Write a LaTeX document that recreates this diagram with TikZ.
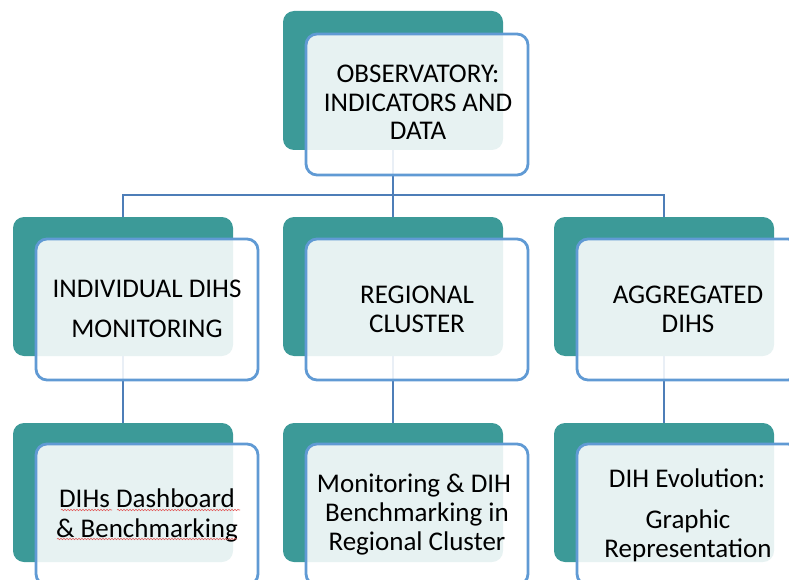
\documentclass[tikz,border=0pt]{standalone}
\usepackage{fontspec}
\setmainfont{Carlito}
\usetikzlibrary{decorations.pathmorphing}
\definecolor{tealbox}{RGB}{60,154,152}
\definecolor{frameblue}{RGB}{96,154,212}
\definecolor{linkblue}{RGB}{78,126,184}
\definecolor{spellred}{RGB}{226,90,90}
\tikzset{
  backbox/.style={fill=tealbox, rounded corners=11pt, inner sep=0pt, outer sep=0pt,
    minimum width=220pt, minimum height=139pt, anchor=north west},
  frontbox/.style={fill=white, fill opacity=0.88, draw=frameblue, line width=2.8pt,
    rounded corners=11pt, inner sep=0pt, outer sep=0pt,
    minimum width=222pt, minimum height=141pt, anchor=north west},
  conn/.style={draw=linkblue, line width=2.7pt},
  label/.style={anchor=base, inner sep=0pt, font=\fontsize{27}{29}\selectfont, text=black},
  squiggle/.style={draw=spellred, line width=0.6pt,
    decorate, decoration={snake, amplitude=0.7pt, segment length=3pt}}
}
\begin{document}
\begin{tikzpicture}[x=1pt, y=-1pt]
\useasboundingbox (0,0) rectangle (789,580);

% teal back panels
\node[backbox] (bTop) at (283,11) {};
\node[backbox] (bL2)  at (13,217) {};
\node[backbox] (bM2)  at (283,217) {};
\node[backbox] (bR2)  at (554,217) {};
\node[backbox] (bL3)  at (13,423) {};
\node[backbox] (bM3)  at (283,423) {};
\node[backbox] (bR3)  at (554,423) {};

% connectors (behind the front cards)
\coordinate (bus) at (0,195);
\draw[conn] (bTop.south) -- (bTop.south |- bus);
\draw[conn] (bL2.north) -- (bL2.north |- bus) -- (bR2.north |- bus) -- (bR2.north);
\draw[conn] (bM2.north |- bus) -- (bM2.north);
\draw[conn] (bL2.south) -- (bL3.north);
\draw[conn] (bM2.south) -- (bM3.north);
\draw[conn] (bR2.south) -- (bR3.north);

% translucent front cards
\node[frontbox] (fTop) at (306,34) {};
\node[frontbox] (fL2)  at (36,239) {};
\node[frontbox] (fM2)  at (306,239) {};
\node[frontbox] (fR2)  at (577,239) {};
\node[frontbox] (fL3)  at (36,444) {};
\node[frontbox] (fM3)  at (306,444) {};
\node[frontbox] (fR3)  at (577,444) {};

% texts
\node[label] (tTop1) at (418,83)  {OBSERVATORY:};
\node[label] (tTop2) at (418,112) {INDICATORS AND};
\node[label] (tTop3) at (418,140) {DATA};

\node[label] (tL21) at (147,297) {INDIVIDUAL DIHS};
\node[label] (tL22) at (147,337) {MONITORING};

\node[label] (tM21) at (417,303) {REGIONAL};
\node[label] (tM22) at (417,332) {CLUSTER};

\node[label] (tR21) at (688,303) {AGGREGATED};
\node[label] (tR22) at (688,332) {DIHS};

\node[label] (tL31) at (147,507) {DIHs Dashboard};
\node[label] (tL32) at (147,537) {\& Benchmarking};

\node[label] (tM31) at (414,492) {Monitoring \& DIH};
\node[label] (tM32) at (417,521) {Benchmarking in};
\node[label] (tM33) at (417,550) {Regional Cluster};

\node[label] (tR31) at (687,487) {DIH Evolution:};
\node[label] (tR32) at (688,528) {Graphic};
\node[label] (tR33) at (688,557) {Representation};

% spell-check marks
\draw[squiggle] (61,510) -- (112,510);
\draw[squiggle] (117,510) -- (240,510);
\draw[squiggle] (57,539) -- (237,539);
\end{tikzpicture}
\end{document}
